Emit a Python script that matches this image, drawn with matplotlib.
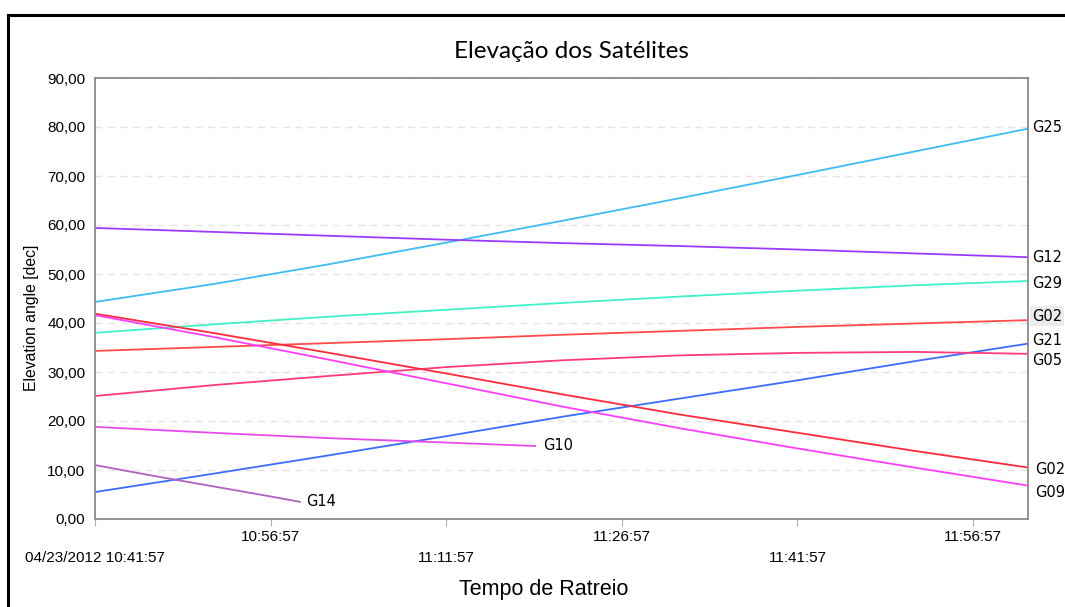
import matplotlib.pyplot as plt
from matplotlib.lines import Line2D
from matplotlib.transforms import blended_transform_factory

# minutes after 04/23/2012 10:41:57
t_full = [0, 10, 20, 30, 40, 50, 60, 70, 80]

g25 = [44.3, 47.9, 52.0, 56.4, 60.9, 65.5, 70.2, 75.0, 79.8]
g12 = [59.4, 58.6, 57.8, 57.0, 56.3, 55.7, 55.0, 54.2, 53.4]
g29 = [38.0, 39.7, 41.3, 42.7, 44.1, 45.4, 46.6, 47.7, 48.6]
g02_up = [34.3, 35.1, 35.9, 36.7, 37.6, 38.4, 39.2, 39.9, 40.6]
g21 = [5.5, 9.2, 13.0, 16.9, 20.9, 24.6, 28.3, 32.2, 35.9]
g05 = [25.1, 27.3, 29.2, 31.0, 32.4, 33.4, 33.9, 34.1, 33.7]
g02_down = [41.9, 38.0, 33.9, 29.7, 25.4, 21.3, 17.6, 13.9, 10.4]
g09 = [41.6, 37.2, 32.5, 27.7, 22.9, 18.5, 14.4, 10.5, 6.7]

t_g10 = [0, 10, 20, 30, 37.6]
g10 = [18.8, 17.6, 16.5, 15.6, 14.9]
t_g14 = [0, 5, 10, 15, 17.5]
g14 = [11.0, 8.8, 6.7, 4.6, 3.5]

tick_minutes = [0, 15, 30, 45, 60, 75]
tick_labels = ["04/23/2012 10:41:57", "10:56:57", "11:11:57",
               "11:26:57", "11:41:57", "11:56:57"]
y_ticks = [0, 10, 20, 30, 40, 50, 60, 70, 80, 90]

full_series = [
    ("G25", g25, "#3dbdf2"),
    ("G12", g12, "#9a3cff"),
    ("G29", g29, "#3ff2c8"),
    ("G02", g02_up, "#ff4a4a"),
    ("G21", g21, "#3a6cff"),
    ("G05", g05, "#ff3a78"),
    ("G02", g02_down, "#ff2a3a"),
    ("G09", g09, "#ff3cff"),
]
# small vertical nudges so end labels don't overlap
label_nudge = [0.0, -0.1, -0.6, 0.8, 0.6, -1.3, -0.4, -1.2]
label_dx = [0.0, 0.0, 0.0, 0.0, 0.0, 0.0, 0.004, 0.004]

fig = plt.figure(figsize=(10.65, 6.07), dpi=100)
ax = fig.add_axes([95 / 1065, 1 - 519 / 607, 933 / 1065, 441 / 607])

for (name, vals, col) in full_series:
    ax.plot(t_full, vals, color=col, lw=1.3)
ax.plot(t_g10, g10, color="#e64ae8", lw=1.3)
ax.plot(t_g14, g14, color="#b060c0", lw=1.3)

ax.set_xlim(0, 79.7)
ax.set_ylim(0, 90)
ax.set_yticks(y_ticks)
ax.set_yticklabels([f"{v:.2f}".replace(".", ",") for v in y_ticks],
                   fontfamily="Liberation Sans", fontsize=11)
ax.tick_params(axis="y", length=0, pad=7)
ax.yaxis.grid(True, color="#e4e4e4", ls=(0, (5, 4)), lw=1)

ax.set_xticks(tick_minutes)
ax.set_xticklabels([])
ax.tick_params(axis="x", length=5, color="#b0b0b0", direction="out")

for s in ax.spines.values():
    s.set_color("#8a8a8a")
    s.set_linewidth(1.3)

tr = blended_transform_factory(ax.transData, ax.transAxes)
for i, (m, lab) in enumerate(zip(tick_minutes, tick_labels)):
    yy = -0.041 if i % 2 else -0.088
    ax.text(m, yy, lab, transform=tr, ha="center", va="center",
            fontfamily="Liberation Sans", fontsize=11)

tr2 = blended_transform_factory(ax.transAxes, ax.transData)
for (name, vals, col), dy, dx in zip(full_series, label_nudge, label_dx):
    kw = {}
    if name == "G02" and dy > 0:
        kw["bbox"] = dict(boxstyle="square,pad=0.15", fc="#ececec", ec="none")
    ax.text(1.004 + dx, vals[-1] + dy, name, transform=tr2, ha="left",
            va="center", fontsize=10.5, clip_on=False, **kw)

ax.text(t_g10[-1] + 0.7, g10[-1], "G10", ha="left", va="center", fontsize=10.5)
ax.text(t_g14[-1] + 0.5, g14[-1], "G14", ha="left", va="center", fontsize=10.5)

fig.text(571 / 1065, 1 - 52 / 607, "Elevação dos Satélites", ha="center",
         va="center", fontfamily="Lato", fontsize=17.5)
fig.text(544 / 1065, 1 - 590 / 607, "Tempo de Ratreio", ha="center",
         va="center", fontfamily="Liberation Sans", fontsize=15.5)
fig.text(32 / 1065, 1 - 318 / 607, "Elevation angle [dec]", ha="center",
         va="center", rotation=90, fontfamily="Liberation Sans", fontsize=11.3)

# outer black frame (top and left visible)
fig.add_artist(Line2D([8 / 1065, 1], [1 - 15 / 607, 1 - 15 / 607],
                      color="black", lw=2.2, transform=fig.transFigure))
fig.add_artist(Line2D([8 / 1065, 8 / 1065], [0, 1 - 15 / 607],
                      color="black", lw=2.2, transform=fig.transFigure))

fig.savefig("out.png", dpi=100)
